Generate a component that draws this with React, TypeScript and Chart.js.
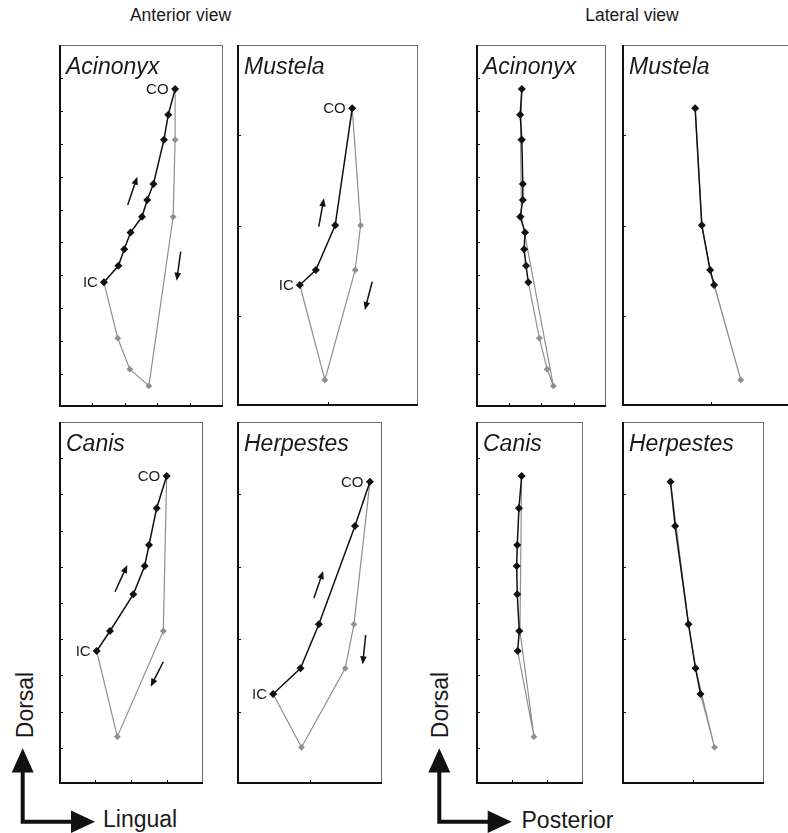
import React, { useEffect, useRef } from 'react';
import { Chart, registerables } from 'chart.js';

Chart.register(...registerables);

const FONT = '"Liberation Sans", Arial, Helvetica, sans-serif';

// ---------------- DATA (axis units) ----------------
// Acinonyx
const acinonyxClosingY = [3.79, 4.29, 4.79, 5.3, 5.78, 6.29, 6.78, 8.12, 8.88, 9.66];
const acinonyxAntClosingX = [1.37, 1.81, 1.99, 2.18, 2.53, 2.69, 2.88, 3.2, 3.33, 3.54];
const acinonyxLatClosingX = [1.61, 1.54, 1.48, 1.51, 1.36, 1.44, 1.44, 1.41, 1.36, 1.41];
const acinonyxOpeningY = [9.66, 8.12, 5.78, 0.64, 1.15, 2.09, 3.79];
const acinonyxAntOpeningX = [3.54, 3.54, 3.48, 2.74, 2.16, 1.79, 1.37];
const acinonyxLatOpeningX = [1.41, 1.37, 1.4, 2.38, 2.19, 1.95, 1.61];

// Mustela
const mustelaClosingY = [1.341, 1.507, 2.002, 3.298];
const mustelaAntClosingX = [0.694, 0.871, 1.085, 1.273];
const mustelaLatClosingX = [1.035, 0.99, 0.897, 0.822];
const mustelaOpeningY = [3.298, 2.002, 1.507, 0.288, 1.341];
const mustelaAntOpeningX = [1.273, 1.366, 1.306, 0.971, 0.694];
const mustelaLatOpeningX = [0.822, 0.897, 0.99, 1.335, 1.035];

// Canis
const canisClosingY = [3.674, 4.227, 5.24, 6.022, 6.602, 7.616, 8.508];
const canisAntClosingX = [1.047, 1.417, 2.064, 2.38, 2.5, 2.713, 2.991];
const canisLatClosingX = [1.168, 1.213, 1.157, 1.14, 1.157, 1.204, 1.28];
const canisOpeningY = [8.508, 4.227, 1.307, 3.674];
const canisAntOpeningX = [2.991, 2.898, 1.62, 1.047];
const canisLatOpeningX = [1.28, 1.232, 1.625, 1.168];

// Herpestes
const herpestesClosingY = [1.243, 1.598, 2.206, 3.564, 4.176];
const herpestesAntClosingX = [0.498, 0.876, 1.129, 1.627, 1.834];
const herpestesLatClosingX = [1.106, 1.036, 0.937, 0.748, 0.683];
const herpestesOpeningY = [4.176, 2.206, 1.598, 0.507, 1.243];
const herpestesAntOpeningX = [1.834, 1.613, 1.493, 0.89, 0.498];
const herpestesLatOpeningX = [0.683, 0.937, 1.036, 1.303, 1.106];

// direction arrows (x1, y1, x2, y2) in axis units
const acinonyxArrows = [[2.094, 6.14, 2.387, 7.0], [3.71, 4.72, 3.588, 3.839]];
const mustelaArrows = [[0.904, 1.987, 0.96, 2.301], [1.494, 1.377, 1.413, 1.064]];
const canisArrows = [[1.556, 5.312, 1.897, 6.05], [2.897, 3.378, 2.547, 2.688]];
const herpestesArrows = [[1.06, 2.565, 1.189, 2.942], [1.775, 2.058, 1.733, 1.653]];

// ---------------- helpers ----------------
type Pt = { x: number; y: number };
const zip = (xs: number[], ys: number[]): Pt[] => xs.map((x, i) => ({ x, y: ys[i] }));

interface PanelSpec {
  title: string;
  box: [number, number, number, number];
  xMax: number;
  yMax: number;
  closing: Pt[];
  opening: Pt[];
  labels: boolean;
  arrows: number[][];
}

const panels: PanelSpec[] = [
  { title: 'Acinonyx', box: [59, 45, 223, 407], xMax: 5, yMax: 11, closing: zip(acinonyxAntClosingX, acinonyxClosingY), opening: zip(acinonyxAntOpeningX, acinonyxOpeningY), labels: true, arrows: acinonyxArrows },
  { title: 'Mustela', box: [237, 45, 418, 406], xMax: 2, yMax: 4, closing: zip(mustelaAntClosingX, mustelaClosingY), opening: zip(mustelaAntOpeningX, mustelaOpeningY), labels: true, arrows: mustelaArrows },
  { title: 'Acinonyx', box: [476, 45, 606, 407], xMax: 4, yMax: 11, closing: zip(acinonyxLatClosingX, acinonyxClosingY), opening: zip(acinonyxLatOpeningX, acinonyxOpeningY), labels: false, arrows: [] },
  { title: 'Mustela', box: [622, 45, 800, 406], xMax: 2, yMax: 4, closing: zip(mustelaLatClosingX, mustelaClosingY), opening: zip(mustelaLatOpeningX, mustelaOpeningY), labels: false, arrows: [] },
  { title: 'Canis', box: [59, 422, 203, 784], xMax: 4, yMax: 10, closing: zip(canisAntClosingX, canisClosingY), opening: zip(canisAntOpeningX, canisOpeningY), labels: true, arrows: canisArrows },
  { title: 'Herpestes', box: [237, 422, 382, 784], xMax: 2, yMax: 5, closing: zip(herpestesAntClosingX, herpestesClosingY), opening: zip(herpestesAntOpeningX, herpestesOpeningY), labels: true, arrows: herpestesArrows },
  { title: 'Canis', box: [476, 422, 583, 784], xMax: 3, yMax: 10, closing: zip(canisLatClosingX, canisClosingY), opening: zip(canisLatOpeningX, canisOpeningY), labels: false, arrows: [] },
  { title: 'Herpestes', box: [622, 422, 764, 784], xMax: 2, yMax: 5, closing: zip(herpestesLatClosingX, herpestesClosingY), opening: zip(herpestesLatOpeningX, herpestesOpeningY), labels: false, arrows: [] },
];

const PAD = 4;

function Panel({ spec }: { spec: PanelSpec }) {
  const ref = useRef<HTMLCanvasElement>(null);
  const [l, t, r, b] = spec.box;
  const w = r - l + 2 * PAD;
  const h = b - t + 2 * PAD;

  useEffect(() => {
    const decor = {
      id: 'decor',
      beforeDatasetsDraw(chart: any) {
        const { ctx, chartArea: a, scales } = chart;
        ctx.save();
        // top & right border (thin grey)
        ctx.strokeStyle = '#6e6e6e';
        ctx.lineWidth = 1;
        ctx.beginPath();
        ctx.moveTo(a.left, a.top + 0.5);
        ctx.lineTo(a.right, a.top + 0.5);
        ctx.moveTo(a.right - 0.5, a.top);
        ctx.lineTo(a.right - 0.5, a.bottom);
        ctx.stroke();
        // left & bottom axis (black)
        ctx.strokeStyle = '#111';
        ctx.lineWidth = 2;
        ctx.beginPath();
        ctx.moveTo(a.left + 1, a.top);
        ctx.lineTo(a.left + 1, a.bottom);
        ctx.moveTo(a.left, a.bottom - 1);
        ctx.lineTo(a.right, a.bottom - 1);
        ctx.stroke();
        // inward ticks
        ctx.lineWidth = 1;
        ctx.beginPath();
        for (let v = 1; v < spec.yMax; v++) {
          const py = Math.round(scales.y.getPixelForValue(v)) + 0.5;
          ctx.moveTo(a.left, py);
          ctx.lineTo(a.left + 4, py);
        }
        for (let v = 1; v < spec.xMax; v++) {
          const px = Math.round(scales.x.getPixelForValue(v)) + 0.5;
          ctx.moveTo(px, a.bottom);
          ctx.lineTo(px, a.bottom - 4);
        }
        ctx.stroke();
        ctx.restore();
      },
      afterDatasetsDraw(chart: any) {
        const { ctx, chartArea: a, scales } = chart;
        const X = (v: number) => scales.x.getPixelForValue(v);
        const Y = (v: number) => scales.y.getPixelForValue(v);
        ctx.save();
        // title
        ctx.fillStyle = '#1a1a1a';
        ctx.font = `italic 23px ${FONT}`;
        ctx.textAlign = 'left';
        ctx.textBaseline = 'alphabetic';
        ctx.fillText(spec.title, a.left + 7, a.top + 28.5);
        // CO / IC labels
        if (spec.labels) {
          ctx.font = `15px ${FONT}`;
          ctx.textAlign = 'right';
          ctx.textBaseline = 'middle';
          const ic = spec.closing[0];
          const co = spec.closing[spec.closing.length - 1];
          ctx.fillText('CO', X(co.x) - 6.5, Y(co.y) + 1);
          ctx.fillText('IC', X(ic.x) - 6, Y(ic.y) + 1);
        }
        // direction arrows
        ctx.strokeStyle = '#111';
        ctx.fillStyle = '#111';
        ctx.lineWidth = 1.5;
        for (const [x1, y1, x2, y2] of spec.arrows) {
          const p1x = X(x1), p1y = Y(y1), p2x = X(x2), p2y = Y(y2);
          const ang = Math.atan2(p2y - p1y, p2x - p1x);
          const hl = 8, hw = 3.3;
          const bx = p2x - hl * Math.cos(ang), by = p2y - hl * Math.sin(ang);
          ctx.beginPath();
          ctx.moveTo(p1x, p1y);
          ctx.lineTo(bx + 1 * Math.cos(ang), by + 1 * Math.sin(ang));
          ctx.stroke();
          ctx.beginPath();
          ctx.moveTo(p2x, p2y);
          ctx.lineTo(bx + hw * Math.sin(ang), by - hw * Math.cos(ang));
          ctx.lineTo(bx - hw * Math.sin(ang), by + hw * Math.cos(ang));
          ctx.closePath();
          ctx.fill();
        }
        ctx.restore();
      },
    };

    const chart = new Chart(ref.current as HTMLCanvasElement, {
      type: 'scatter',
      data: {
        datasets: [
          {
            label: 'closing',
            data: spec.closing,
            showLine: true,
            borderColor: '#111',
            backgroundColor: '#111',
            borderWidth: 1.5,
            pointStyle: 'rectRot',
            pointRadius: 4,
            pointBorderWidth: 0,
            pointBackgroundColor: '#111',
          },
          {
            label: 'opening',
            data: spec.opening,
            showLine: true,
            borderColor: '#8f8f8f',
            backgroundColor: '#8f8f8f',
            borderWidth: 1.2,
            pointStyle: 'rectRot',
            pointRadius: 3.4,
            pointBorderWidth: 0,
            pointBackgroundColor: '#8f8f8f',
          },
        ],
      } as any,
      options: {
        animation: false,
        responsive: false,
        maintainAspectRatio: false,
        events: [],
        layout: { padding: PAD },
        plugins: { legend: { display: false }, tooltip: { enabled: false }, title: { display: false } },
        scales: {
          x: { type: 'linear', min: 0, max: spec.xMax, display: false },
          y: { type: 'linear', min: 0, max: spec.yMax, display: false },
        },
      } as any,
      plugins: [decor],
    });
    return () => chart.destroy();
  }, []);

  return (
    <canvas
      ref={ref}
      width={w}
      height={h}
      style={{ position: 'absolute', left: l - PAD, top: t - PAD, width: w, height: h }}
    />
  );
}

export default function App() {
  const textBase: React.CSSProperties = { position: 'absolute', fontFamily: FONT, color: '#1a1a1a', whiteSpace: 'nowrap' };
  return (
    <div style={{ position: 'absolute', left: 0, top: 0, width: 788, height: 833, overflow: 'hidden', background: '#fff' }}>
      <div style={{ ...textBase, left: 80, width: 201, top: 5, fontSize: 17.5, lineHeight: '20px', textAlign: 'center' }}>Anterior view</div>
      <div style={{ ...textBase, left: 532, width: 200, top: 5, fontSize: 17.5, lineHeight: '20px', textAlign: 'center' }}>Lateral view</div>

      {panels.map((p, i) => (
        <Panel key={i} spec={p} />
      ))}

      <div style={{ ...textBase, left: 25 - 50, top: 705 - 13, width: 100, height: 26, lineHeight: '26px', fontSize: 23, textAlign: 'center', transform: 'rotate(-90deg)' }}>Dorsal</div>
      <div style={{ ...textBase, left: 440 - 50, top: 705 - 13, width: 100, height: 26, lineHeight: '26px', fontSize: 23, textAlign: 'center', transform: 'rotate(-90deg)' }}>Dorsal</div>
      <div style={{ ...textBase, left: 103, top: 805.5, lineHeight: '26px', fontSize: 23 }}>Lingual</div>
      <div style={{ ...textBase, left: 521.5, top: 807, lineHeight: '26px', fontSize: 23 }}>Posterior</div>

      <svg width={788} height={833} style={{ position: 'absolute', left: 0, top: 0, pointerEvents: 'none' }}>
        <g stroke="#111" strokeWidth={4} fill="none">
          <path d="M22.7 770 V821.7 H73" />
          <path d="M439.3 770 V821.7 H490" />
        </g>
        <g fill="#111">
          <polygon points="22.7,748.3 11.7,772.5 33.7,772.5" />
          <polygon points="95,821.7 71,810.5 71,833" />
          <polygon points="439.3,748.3 428.3,772.5 450.3,772.5" />
          <polygon points="511.7,821.7 487.7,810.5 487.7,833" />
        </g>
      </svg>
    </div>
  );
}
